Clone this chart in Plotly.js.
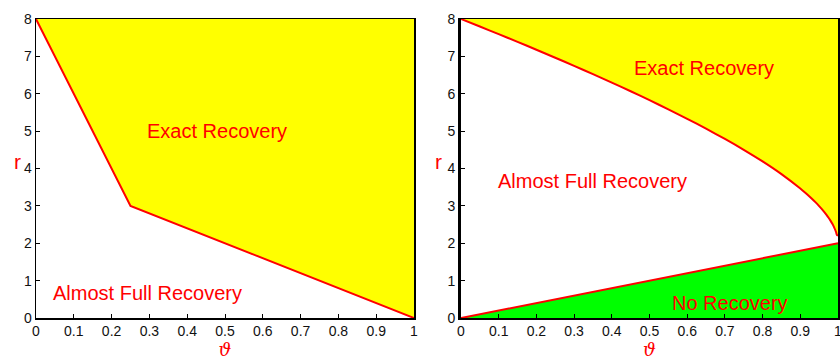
<!DOCTYPE html>
<html>
<head>
<meta charset="utf-8">
<script src="https://cdn.plot.ly/plotly-3.0.1.min.js"></script>
<style>html,body{margin:0;padding:0;background:#fff;}#chart{width:840px;height:360px;}</style>
</head>
<body>
<div id="chart"></div>
<script>
// Left panel: boundary between Exact Recovery and Almost Full Recovery
const leftTheta = [0, 0.25, 1];
const leftR = [8, 3, 0];

// Right panel: upper boundary (Exact Recovery)
const rightTheta = [0, 0.05, 0.1, 0.15, 0.2, 0.25, 0.3, 0.35, 0.4, 0.45, 0.5, 0.55, 0.6, 0.65, 0.7, 0.75, 0.8, 0.85, 0.9, 0.91, 0.92, 0.93, 0.94, 0.95, 0.96, 0.97, 0.975, 0.98, 0.985, 0.99, 0.9925, 0.995, 0.997, 1];
const rightR = [8, 7.799, 7.595, 7.388, 7.178, 6.964, 6.747, 6.525, 6.298, 6.066, 5.828, 5.583, 5.330, 5.066, 4.791, 4.5, 4.189, 3.849, 3.465, 3.38, 3.291, 3.198, 3.100, 2.994, 2.88, 2.753, 2.682, 2.606, 2.520, 2.42, 2.361, 2.293, 2.225, 2.2];

// Right panel: lower boundary (No Recovery)
const lowTheta = [0, 1];
const lowR = [0, 2];

const xTicks = [0, 0.1, 0.2, 0.3, 0.4, 0.5, 0.6, 0.7, 0.8, 0.9, 1];
const xTickText = ['0', '0.1', '0.2', '0.3', '0.4', '0.5', '0.6', '0.7', '0.8', '0.9', '1'];
const yTicks = [0, 1, 2, 3, 4, 5, 6, 7, 8];

const RED = '#ff0000', YEL = '#ffff00', GRN = '#00ff00';

const traces = [
  {x: leftTheta.concat([1, 0]), y: leftR.concat([8, 8]), xaxis: 'x', yaxis: 'y',
   type: 'scatter', mode: 'none', fill: 'toself', fillcolor: YEL, hoverinfo: 'skip'},
  {x: leftTheta, y: leftR, xaxis: 'x', yaxis: 'y', type: 'scatter', mode: 'lines',
   line: {color: RED, width: 2}},
  {x: rightTheta.concat([1, 0]), y: rightR.concat([8, 8]), xaxis: 'x2', yaxis: 'y2',
   type: 'scatter', mode: 'none', fill: 'toself', fillcolor: YEL, hoverinfo: 'skip'},
  {x: lowTheta.concat([1]), y: lowR.concat([0]), xaxis: 'x2', yaxis: 'y2',
   type: 'scatter', mode: 'none', fill: 'toself', fillcolor: GRN, hoverinfo: 'skip'},
  {x: rightTheta, y: rightR, xaxis: 'x2', yaxis: 'y2', type: 'scatter', mode: 'lines',
   line: {color: RED, width: 2, shape: 'spline', smoothing: 0.6}},
  {x: lowTheta, y: lowR, xaxis: 'x2', yaxis: 'y2', type: 'scatter', mode: 'lines',
   line: {color: RED, width: 2}}
];

const tickFont = {family: 'Liberation Sans, Arial, sans-serif', size: 14, color: '#111'};
const xTitle = {text: 'ϑ', font: {family: 'DejaVu Serif, serif', size: 18, color: RED, style: 'italic'}, standoff: 13};

function xa(domain, anchor) {
  return {domain: domain, anchor: anchor, range: [0, 1], tickvals: xTicks, ticktext: xTickText,
    ticks: 'inside', ticklen: 4, tickcolor: '#000', showgrid: false, zeroline: false,
    showline: true, linecolor: '#000', linewidth: 1.5, mirror: true, tickfont: tickFont,
    ticklabeloverflow: 'allow', title: xTitle, automargin: false, fixedrange: true};
}
function ya(domain, anchor, lw) {
  return {domain: domain, anchor: anchor, range: [0, 8], tickvals: yTicks,
    ticks: 'inside', ticklen: 4, tickcolor: '#000', showgrid: false, zeroline: false,
    showline: true, linecolor: '#000', linewidth: lw, mirror: true, tickfont: tickFont,
    ticklabeloverflow: 'allow', automargin: false, fixedrange: true};
}

const yDom = [1 - 318 / 360, 1 - 19 / 360];
const annFont = {family: 'Liberation Sans, Arial, sans-serif', size: 20, color: RED};
const rFont = {family: 'Liberation Sans, Arial, sans-serif', size: 21, color: RED};

const layout = {
  width: 840, height: 360,
  margin: {l: 0, r: 0, t: 0, b: 0},
  paper_bgcolor: '#fff', plot_bgcolor: '#fff',
  showlegend: false,
  xaxis: xa([36 / 840, 414 / 840], 'y'),
  yaxis: ya(yDom, 'x', 1.5),
  xaxis2: xa([461 / 840, 838 / 840], 'y2'),
  yaxis2: ya(yDom, 'x2', 3),
  annotations: [
    {x: 12 / 840, y: 1 - 162 / 360, xref: 'paper', yref: 'paper', text: 'r', showarrow: false, font: rFont},
    {x: 438 / 840, y: 1 - 162 / 360, xref: 'paper', yref: 'paper', text: 'r', showarrow: false, font: rFont},
    {x: 0.48, y: 5.0, xref: 'x', yref: 'y', text: 'Exact Recovery', showarrow: false, font: annFont},
    {x: 0.296, y: 0.67, xref: 'x', yref: 'y', text: 'Almost Full Recovery', showarrow: false, font: annFont},
    {x: 0.645, y: 6.69, xref: 'x2', yref: 'y2', text: 'Exact Recovery', showarrow: false, font: annFont},
    {x: 0.35, y: 3.67, xref: 'x2', yref: 'y2', text: 'Almost Full Recovery', showarrow: false, font: annFont},
    {x: 0.714, y: 0.40, xref: 'x2', yref: 'y2', text: 'No Recovery', showarrow: false, font: annFont}
  ]
};

Plotly.newPlot('chart', traces, layout, {displayModeBar: false, staticPlot: true});
</script>
</body>
</html>
